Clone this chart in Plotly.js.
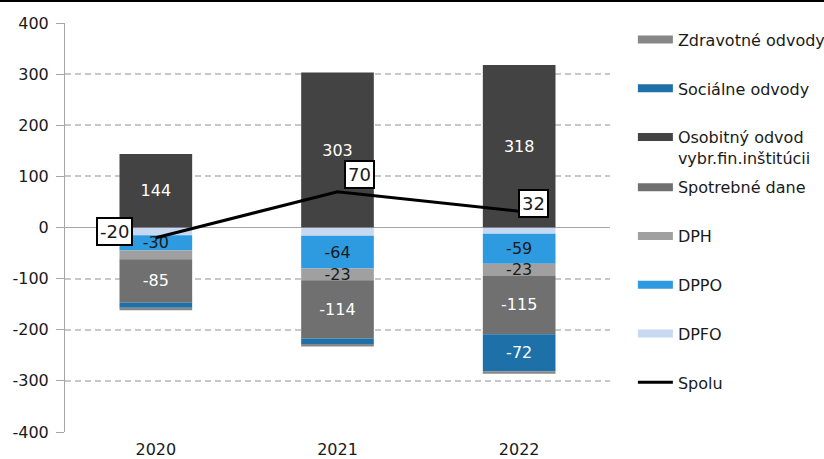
<!DOCTYPE html>
<html><head><meta charset="utf-8">
<script src="https://cdn.plot.ly/plotly-3.0.1.min.js"></script>
<style>
html,body{margin:0;padding:0;background:#fff}
#chart{width:824px;height:459px}
#topline{position:absolute;left:0;top:0;width:824px;height:2px;background:#000}
</style>
</head><body>
<div id="chart"></div><div id="topline"></div>
<script>
// ---- data ----
const years = ['2020', '2021', '2022'];
const dpfo = [-15, -16, -12];
const dppo = [-30, -64, -59];
const dph = [-17, -23, -23];
const spotrebne = [-85, -114, -115];
const socialne = [-10, -11, -72];
const zdravotne = [-5, -5, -5];
const osobitny = [144, 303, 318];
const spolu = [-20, 70, 32];
const yTicks = [400, 300, 200, 100, 0, -100, -200, -300, -400];

// ---- series styling ----
const series = [
  {name: 'DPFO', y: dpfo, color: '#c6d9f1', txt: '#1a1a1a', legend: 'legend2', rank: 4},
  {name: 'DPPO', y: dppo, color: '#2e9ae0', txt: '#1a1a1a', legend: 'legend2', rank: 3},
  {name: 'DPH', y: dph, color: '#a0a0a0', txt: '#1a1a1a', legend: 'legend2', rank: 2},
  {name: 'Spotrebné dane', y: spotrebne, color: '#707070', txt: '#ffffff', legend: 'legend2', rank: 1},
  {name: 'Sociálne odvody', y: socialne, color: '#1e70a8', txt: '#ffffff', legend: 'legend', rank: 2},
  {name: 'Zdravotné odvody', y: zdravotne, color: '#878787', txt: '#ffffff', legend: 'legend', rank: 1},
  {name: 'Osobitný odvod<br>vybr.fin.inštitúcii', y: osobitny, color: '#434343', txt: '#ffffff', legend: 'legend', rank: 3}
];

const FONT = 'DejaVu Sans';
const traces = [];
series.forEach((s, i) => {
  const g = 'g' + i;
  traces.push({
    type: 'bar', x: years, y: s.y, name: s.name,
    marker: {color: s.color, line: {width: 0}},
    text: s.y.map(v => Math.abs(v) >= 20 ? String(v) : ''),
    textposition: 'inside', insidetextanchor: 'middle',
    textangle: 0, constraintext: 'none', cliponaxis: false,
    textfont: {family: FONT, size: 16, color: s.txt},
    showlegend: false, legendgroup: g, hoverinfo: 'x+y+name'
  });
  // legend swatch
  traces.push({
    type: 'scatter', mode: 'lines', x: [null], y: [null], name: s.name,
    line: {color: s.color, width: 8}, legendgroup: g,
    legend: s.legend, legendrank: s.rank, hoverinfo: 'skip'
  });
});
traces.push({
  type: 'scatter', mode: 'lines', x: years, y: spolu, name: 'Spolu',
  line: {color: '#000000', width: 3}, legend: 'legend2', legendrank: 5,
  legendgroup: 'spolu'
});

const shifts = [[-41, 6], [22, 17], [14, 8]];
const annotations = spolu.map((v, i) => ({
  x: i, y: v, xref: 'x', yref: 'y', text: String(v), showarrow: false,
  xanchor: 'center', yanchor: 'middle',
  xshift: shifts[i][0], yshift: shifts[i][1],
  bgcolor: '#ffffff', bordercolor: '#000000', borderwidth: 2, borderpad: 2,
  font: {family: FONT, size: 18, color: '#1a1a1a'}
}));

const legendBase = {
  xanchor: 'left', yanchor: 'top', traceorder: 'grouped', tracegroupgap: 25,
  itemwidth: 35, valign: 'top', font: {family: FONT, size: 16, color: '#1a1a1a'},
  bgcolor: 'rgba(0,0,0,0)', itemclick: false, itemdoubleclick: false
};

const layout = {
  width: 824, height: 459,
  margin: {l: 65, r: 214, t: 23, b: 27, autoexpand: false},
  paper_bgcolor: '#ffffff', plot_bgcolor: '#ffffff',
  barmode: 'relative', bargap: 0.6,
  font: {family: FONT, size: 16, color: '#1a1a1a'},
  showlegend: true,
  xaxis: {
    type: 'category', range: [-0.5, 2.5], showgrid: false, showline: false,
    zeroline: false, ticks: '', ticklabelstandoff: 6, automargin: false, fixedrange: true
  },
  yaxis: {
    range: [-400, 400], tickmode: 'array', tickvals: yTicks, ticktext: yTicks.map(String),
    showline: true, linecolor: '#a6a6a6', linewidth: 1,
    ticks: 'outside', ticklen: 8, tickcolor: '#a6a6a6', tickwidth: 1,
    showgrid: true, gridcolor: '#c8c8c8', gridwidth: 1.5, griddash: '6px,4px',
    zeroline: true, zerolinecolor: '#a6a6a6', zerolinewidth: 1,
    automargin: false, fixedrange: true, ticklabelstandoff: 4
  },
  legend: Object.assign({x: 1.042, y: 1.001}, legendBase),
  legend2: Object.assign({x: 1.042, y: 0.640}, legendBase),
  annotations: annotations
};

Plotly.newPlot('chart', traces, layout, {displayModeBar: false, responsive: false});
</script>
</body></html>
